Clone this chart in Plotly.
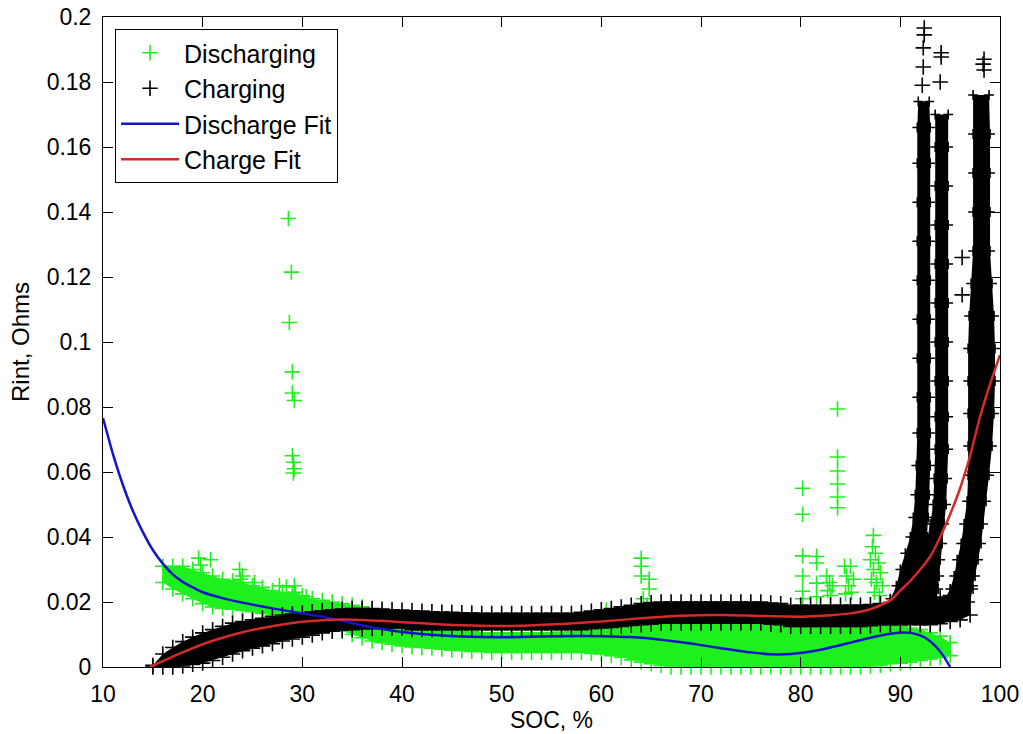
import plotly.graph_objects as go

# ---------------- data ----------------
# Discharging (green) dense band: SOC, upper edge, lower edge
dis_x = list(range(16, 96))
dis_hi = [0.031, 0.031, 0.031, 0.030, 0.029, 0.028, 0.027, 0.0265, 0.026, 0.025,
          0.0245, 0.0235, 0.023, 0.0225, 0.022, 0.021, 0.0205, 0.020, 0.0195, 0.019,
          0.0185, 0.0175, 0.0165, 0.015, 0.0135, 0.0125, 0.012, 0.0118, 0.0115, 0.0112,
          0.011, 0.0108, 0.0105, 0.0105, 0.0105, 0.0105, 0.0105, 0.0105, 0.0105, 0.0106,
          0.0107, 0.0108, 0.011, 0.0112, 0.0115, 0.0118, 0.012, 0.0125, 0.013, 0.0132,
          0.0135, 0.0135, 0.0135, 0.0135, 0.0135, 0.0135, 0.0135, 0.0135, 0.0135, 0.0135,
          0.0135, 0.013, 0.0128, 0.0128, 0.0128, 0.0128, 0.0128, 0.0128, 0.0128, 0.013,
          0.0135, 0.0135, 0.013, 0.013, 0.0125, 0.012, 0.0115, 0.0105, 0.0095, 0.0075]
dis_lo = [0.026, 0.024, 0.0225, 0.021, 0.0195, 0.0185, 0.018, 0.0178, 0.0175, 0.017,
          0.0165, 0.0158, 0.015, 0.0145, 0.014, 0.013, 0.012, 0.0115, 0.011, 0.010,
          0.009, 0.008, 0.0075, 0.007, 0.0065, 0.0062, 0.006, 0.0058, 0.0055, 0.0052,
          0.005, 0.0048, 0.0047, 0.0045, 0.0045, 0.0045, 0.0045, 0.0045, 0.0045, 0.0045,
          0.0045, 0.0045, 0.0045, 0.0042, 0.004, 0.0035, 0.003, 0.0022, 0.0015, 0.001,
          0.0005, 0.0, 0.0, 0.0, 0.0, 0.0, 0.0, 0.0, 0.0, 0.0,
          0.0, 0.0, 0.0, 0.0, 0.0, 0.0, 0.0, 0.0, 0.0, 0.0,
          0.0, 0.0003, 0.0005, 0.001, 0.0012, 0.0015, 0.002, 0.0025, 0.003, 0.0035]

# Discharging isolated points
dis_out_x = [28.6, 28.9, 28.7, 29.0, 29.0, 29.2, 29.0, 29.1, 29.2, 29.1,
             19.6, 20.8, 19.8, 23.7, 24.0, 23.8, 25.2, 25.2, 27.7, 28.4, 29.2, 29.3, 30.4,
             64.0, 64.0, 64.0, 64.8, 64.8, 64.2, 64.6, 60.5,
             80.2, 80.2, 80.2, 80.2, 80.2, 80.2,
             81.6, 81.6, 81.6, 81.6,
             83.7, 83.7, 83.7, 83.7, 83.7, 83.7,
             82.6, 82.9, 83.2, 82.7, 83.0,
             84.4, 85.0, 84.6, 85.3, 84.8, 85.1, 84.5,
             87.3, 87.2, 87.5, 87.0, 87.8, 87.3, 88.0, 87.1, 87.6, 88.2, 87.4, 87.9]
dis_out_y = [0.138, 0.1215, 0.106, 0.0908, 0.0843, 0.082, 0.065, 0.063, 0.061, 0.0597,
             0.0335, 0.033, 0.0314, 0.030, 0.028, 0.027, 0.026, 0.024, 0.025, 0.0246, 0.025, 0.023, 0.0216,
             0.0335, 0.031, 0.028, 0.027, 0.024, 0.021, 0.019, 0.0175,
             0.055, 0.047, 0.0342, 0.028, 0.0233, 0.021,
             0.034, 0.032, 0.0258, 0.0216,
             0.0794, 0.0646, 0.0603, 0.0563, 0.0523, 0.049,
             0.028, 0.026, 0.025, 0.0235, 0.022,
             0.031, 0.031, 0.028, 0.027, 0.025, 0.023, 0.0225,
             0.0405, 0.037, 0.035, 0.033, 0.032, 0.030, 0.029, 0.027, 0.026, 0.025, 0.023, 0.022]

# Charging (black) dense band: SOC, upper edge, lower edge
chg_x = list(range(15, 98))
chg_hi = [0.0005, 0.004, 0.006, 0.0078, 0.0092, 0.0105, 0.0115, 0.0125, 0.0135, 0.014,
          0.0145, 0.015, 0.0155, 0.016, 0.0163, 0.0166, 0.017, 0.0173, 0.0176, 0.0178,
          0.018, 0.018, 0.018, 0.0178, 0.0176, 0.0175, 0.0173, 0.0172, 0.017, 0.0169,
          0.0168, 0.0167, 0.0166, 0.0165, 0.0165, 0.0165, 0.0165, 0.0165, 0.0165, 0.0165,
          0.0165, 0.0165, 0.0165, 0.0168, 0.0172, 0.0176, 0.018, 0.0185, 0.019, 0.0195,
          0.0198, 0.020, 0.020, 0.020, 0.020, 0.020, 0.020, 0.020, 0.020, 0.020,
          0.020, 0.020, 0.0197, 0.0195, 0.019, 0.019, 0.019, 0.019, 0.019, 0.019,
          0.019, 0.019, 0.0192, 0.0195, 0.0198, 0.020, 0.0203, 0.0206, 0.021, 0.0215,
          0.022, 0.023, 0.025]
chg_lo = [0.0, 0.0, 0.0, 0.0003, 0.0008, 0.0012, 0.002, 0.003, 0.004, 0.005,
          0.0058, 0.0065, 0.0072, 0.008, 0.0086, 0.0092, 0.0098, 0.0105, 0.011, 0.0113,
          0.0115, 0.0117, 0.0118, 0.012, 0.012, 0.012, 0.0115, 0.0115, 0.0115, 0.0115,
          0.0115, 0.0115, 0.0115, 0.0115, 0.0115, 0.0115, 0.0115, 0.0115, 0.0115, 0.0115,
          0.0115, 0.0115, 0.0115, 0.0115, 0.0118, 0.012, 0.0122, 0.0125, 0.0128, 0.013,
          0.0132, 0.0135, 0.0135, 0.0135, 0.0135, 0.0135, 0.0135, 0.0135, 0.0135, 0.0135,
          0.0135, 0.0135, 0.0132, 0.013, 0.0125, 0.0125, 0.0125, 0.0125, 0.0125, 0.0125,
          0.0125, 0.0125, 0.0127, 0.013, 0.013, 0.013, 0.013, 0.013, 0.013, 0.0133,
          0.014, 0.0145, 0.016]

# Charging near-full spikes: Rint level, left / right SOC of the dense column
sp1_y = [0.018, 0.021, 0.025, 0.030, 0.035, 0.040, 0.046, 0.053, 0.062, 0.072,
         0.083, 0.095, 0.107, 0.119, 0.131, 0.143, 0.155, 0.166, 0.174]
sp1_l = [88.6, 89.0, 89.6, 90.0, 90.5, 91.0, 91.3, 91.5, 91.6, 91.7,
         91.7, 91.7, 91.7, 91.7, 91.7, 91.7, 91.7, 91.7, 91.8]
sp1_r = [92.6, 92.6, 92.6, 92.5, 92.6, 92.7, 92.8, 92.9, 93.0, 93.0,
         93.0, 93.0, 93.0, 93.0, 93.0, 93.0, 93.0, 93.0, 92.9]

sp2_y = [0.020, 0.024, 0.028, 0.033, 0.038, 0.044, 0.050, 0.058, 0.067, 0.077,
         0.088, 0.100, 0.112, 0.124, 0.136, 0.148, 0.160, 0.170]
sp2_l = [91.0, 91.4, 91.8, 92.2, 92.6, 93.0, 93.3, 93.4, 93.5, 93.5,
         93.5, 93.5, 93.5, 93.5, 93.5, 93.5, 93.5, 93.5]
sp2_r = [93.6, 93.8, 93.9, 94.0, 94.2, 94.4, 94.6, 94.7, 94.8, 94.8,
         94.8, 94.8, 94.8, 94.8, 94.8, 94.8, 94.8, 94.8]

sp3_y = [0.017, 0.020, 0.024, 0.028, 0.033, 0.038, 0.044, 0.051, 0.059, 0.068,
         0.078, 0.088, 0.098, 0.108, 0.118, 0.128, 0.140, 0.152, 0.164, 0.176]
sp3_l = [93.8, 94.3, 95.0, 95.4, 95.7, 96.1, 96.4, 96.7, 96.8, 96.8,
         96.8, 96.8, 96.8, 96.9, 97.1, 97.3, 97.3, 97.3, 97.3, 97.3]
sp3_r = [96.6, 97.0, 97.3, 97.5, 97.8, 98.1, 98.3, 98.6, 98.9, 99.2,
         99.4, 99.5, 99.5, 99.4, 99.2, 99.0, 99.0, 99.0, 99.0, 98.9]

# Charging isolated points
chg_out_x = [92.4, 92.4, 92.3, 92.3, 92.2, 94.1, 94.1, 94.0, 98.4, 98.3, 98.4, 96.2, 96.2]
chg_out_y = [0.1966, 0.1945, 0.1905, 0.1846, 0.179, 0.189, 0.1877, 0.180,
             0.187, 0.1855, 0.1837, 0.126, 0.1145]

# Fit curves
dfit_x = [10, 11, 12, 13, 14, 15, 16, 17, 18, 19, 20, 22, 24, 26, 28, 30, 32, 34, 36, 38,
          40, 44, 48, 52, 56, 60, 63, 66, 69, 72, 75, 77, 79, 82, 85, 87, 89, 90.5, 91.5,
          92.5, 93.5, 94.3, 95]
dfit_y = [0.0766, 0.0655, 0.056, 0.048, 0.0415, 0.036, 0.0318, 0.0285, 0.0262, 0.0245,
          0.023, 0.0212, 0.0198, 0.0186, 0.0175, 0.0165, 0.0155, 0.0142, 0.0128, 0.0117,
          0.0108, 0.0097, 0.0092, 0.0092, 0.0095, 0.0095, 0.0092, 0.0084, 0.0072, 0.0058,
          0.0045, 0.0039, 0.004, 0.0053, 0.0075, 0.009, 0.0102, 0.0106, 0.0102,
          0.009, 0.0065, 0.0035, 0.0]

cfit_x = [14.7, 16, 18, 20, 22, 24, 26, 28, 30, 32, 34, 36, 38, 40, 44, 48, 52, 56, 60,
          64, 68, 72, 76, 80, 83, 85, 86, 87, 88, 89, 90, 91, 92, 93, 94, 95, 96, 97,
          98, 99, 100]
cfit_y = [0.0, 0.0018, 0.0045, 0.007, 0.009, 0.0107, 0.012, 0.0131, 0.0139, 0.0144,
          0.0146, 0.0145, 0.0142, 0.0138, 0.0131, 0.0127, 0.0127, 0.0132, 0.014,
          0.015, 0.0158, 0.016, 0.0157, 0.0155, 0.0159, 0.0165, 0.017, 0.0178, 0.019,
          0.0205, 0.0235, 0.0265, 0.030, 0.034, 0.040, 0.047, 0.055, 0.065,
          0.077, 0.087, 0.096]

x_ticks = [10, 20, 30, 40, 50, 60, 70, 80, 90, 100]
x_ticktext = ["10", "20", "30", "40", "50", "60", "70", "80", "90", "100"]
y_ticks = [0, 0.02, 0.04, 0.06, 0.08, 0.1, 0.12, 0.14, 0.16, 0.18, 0.2]
y_ticktext = ["0", "0.02", "0.04", "0.06", "0.08", "0.1", "0.12", "0.14", "0.16", "0.18", "0.2"]

# ---------------- styling ----------------
GREEN = "#1ef01e"
BLACK = "#000000"
BLUE = "#1414c8"
RED = "#d42a2a"
FONT = "Liberation Sans, Arial, sans-serif"
MSIZE = 11
MLW = 1.6


def plus(color, size=MSIZE):
    return dict(symbol="cross-thin", size=size, color=color,
                line=dict(color=color, width=MLW))


fig = go.Figure()


def band(xs, hi, lo, color, group):
    fig.add_trace(go.Scatter(
        x=xs + xs[::-1], y=hi + lo[::-1], mode="lines", fill="toself",
        fillcolor=color, line=dict(width=0, color=color),
        hoverinfo="skip", showlegend=False, legendgroup=group))
    fig.add_trace(go.Scatter(
        x=xs + xs, y=hi + lo, mode="markers", marker=plus(color),
        cliponaxis=False, hoverinfo="skip", showlegend=False, legendgroup=group))


def column(ys, left, right, color, group):
    fig.add_trace(go.Scatter(
        x=left + right[::-1], y=ys + ys[::-1], mode="lines", fill="toself",
        fillcolor=color, line=dict(width=0, color=color),
        hoverinfo="skip", showlegend=False, legendgroup=group))
    fig.add_trace(go.Scatter(
        x=left + right, y=ys + ys, mode="markers", marker=plus(color, 7),
        hoverinfo="skip", showlegend=False, legendgroup=group))


# Discharging
band(dis_x, dis_hi, dis_lo, GREEN, "dis")
fig.add_trace(go.Scatter(x=dis_out_x, y=dis_out_y, mode="markers", name="Discharging",
                         marker=plus(GREEN), legendgroup="dis"))

# Charging
band(chg_x, chg_hi, chg_lo, BLACK, "chg")
column(sp1_y, sp1_l, sp1_r, BLACK, "chg")
column(sp2_y, sp2_l, sp2_r, BLACK, "chg")
column(sp3_y, sp3_l, sp3_r, BLACK, "chg")
fig.add_trace(go.Scatter(x=chg_out_x, y=chg_out_y, mode="markers", name="Charging",
                         marker=plus(BLACK), legendgroup="chg"))

# Fits
fig.add_trace(go.Scatter(x=dfit_x, y=dfit_y, mode="lines", name="Discharge Fit",
                         line=dict(color=BLUE, width=2.5, shape="spline", smoothing=0.6)))
fig.add_trace(go.Scatter(x=cfit_x, y=cfit_y, mode="lines", name="Charge Fit",
                         line=dict(color=RED, width=2.5, shape="spline", smoothing=0.6)))

axis_common = dict(showline=True, linecolor="black", linewidth=1, mirror="ticks",
                   ticks="inside", ticklen=10, tickcolor="black", tickwidth=1,
                   showgrid=False, zeroline=False, automargin=False,
                   tickfont=dict(family=FONT, size=23, color="black"))

fig.update_xaxes(range=[10, 100], tickvals=x_ticks, ticktext=x_ticktext,
                 ticklabelstandoff=6,
                 title=dict(text="SOC, %", font=dict(family=FONT, size=23, color="black"),
                            standoff=6),
                 **axis_common)
fig.update_yaxes(range=[0, 0.2], tickvals=y_ticks, ticktext=y_ticktext,
                 ticklabelstandoff=6,
                 title=dict(text="Rint, Ohms", font=dict(family=FONT, size=24, color="black"),
                            standoff=10),
                 **axis_common)

fig.update_layout(
    width=1023, height=734,
    margin=dict(l=103, r=23, t=17, b=67),
    paper_bgcolor="white", plot_bgcolor="white",
    font=dict(family=FONT, color="black"),
    legend=dict(x=0.0134, y=0.9815, xanchor="left", yanchor="top",
                bgcolor="white", bordercolor="black", borderwidth=1,
                font=dict(family=FONT, size=25, color="black"),
                itemwidth=58, tracegroupgap=0),
)

fig.write_html("out.html")
